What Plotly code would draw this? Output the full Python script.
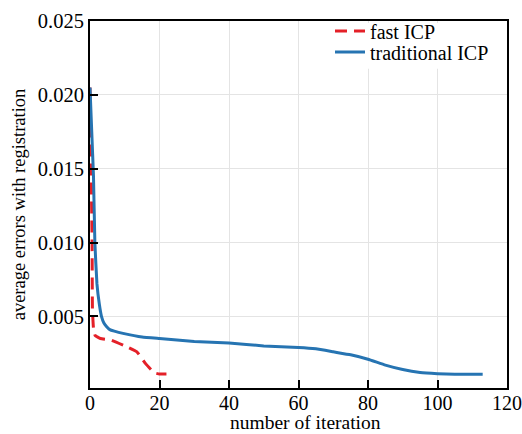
import plotly.graph_objects as go

# Data
fast_x = [0, 0.6, 0.7, 1.0, 1.5, 3, 6, 11, 13.5, 16, 18.5, 20, 22]
fast_y = [0.0205, 0.0100, 0.0055, 0.0042, 0.0037, 0.0035, 0.0034, 0.0029, 0.0026, 0.0018, 0.00118, 0.0011, 0.0011]

trad_x = [0, 0.5, 1, 1.4, 2, 2.7, 3.3, 4, 4.8, 5.7, 7, 9.5, 15, 20, 30, 40, 50, 60, 65, 70, 75, 80, 85, 90,
          95, 100, 105, 113]
trad_y = [0.0205, 0.0175, 0.0145, 0.0100, 0.0072, 0.0058, 0.0050, 0.00455, 0.0043, 0.0041, 0.0040, 0.00385,
          0.0036, 0.0035, 0.0033, 0.0032, 0.0030, 0.0029, 0.0028, 0.0026, 0.0024, 0.0021, 0.0017, 0.0014,
          0.0012, 0.00112, 0.00108, 0.00108]

x_ticks = [0, 20, 40, 60, 80, 100, 120]
y_ticks = [0.005, 0.010, 0.015, 0.020, 0.025]

FONT = "Liberation Serif, Times New Roman, serif"
W, H = 522, 434
ML, MR, MT, MB = 90, 15, 20, 46
PW, PH = W - ML - MR, H - MT - MB


def px_x(p):
    return (p - ML) / PW


def px_y(p):
    return (H - MB - p) / PH


fig = go.Figure()
fig.add_trace(go.Scatter(x=fast_x, y=fast_y, mode="lines", name="fast ICP", legend="legend",
                         line=dict(color="rgb(228,32,40)", width=3, dash="12px,7px",
                                   shape="spline", smoothing=0.3)))
fig.add_trace(go.Scatter(x=trad_x, y=trad_y, mode="lines", name="traditional ICP", legend="legend2",
                         line=dict(color="rgb(38,116,178)", width=3, shape="spline", smoothing=0.3)))

leg_common = dict(xanchor="left", yanchor="middle", bgcolor="rgba(255,255,255,0)",
                  font=dict(family=FONT, size=20), borderwidth=0, itemwidth=30)

# white box behind the legend (hides grid lines there, as in the reference)
fig.add_shape(type="rect", xref="paper", yref="paper", layer="above",
              x0=px_x(312), x1=px_x(500), y0=px_y(68), y1=px_y(22),
              fillcolor="white", line=dict(width=0))

# x-axis title as an annotation so its distance from the tick labels can be set
fig.add_annotation(text="number of iteration", xref="paper", yref="paper",
                   x=px_x(305), y=px_y(423), xanchor="center", yanchor="middle",
                   showarrow=False, font=dict(family=FONT, size=19.5, color="black"))

fig.update_layout(
    width=W, height=H,
    margin=dict(l=ML, r=MR, t=MT, b=MB),
    paper_bgcolor="white", plot_bgcolor="white",
    font=dict(family=FONT, color="black", size=20),
    showlegend=True,
    legend=dict(x=px_x(330), y=px_y(31), **leg_common),
    legend2=dict(x=px_x(330), y=px_y(52), **leg_common),
    xaxis=dict(range=[0, 120], tickvals=x_ticks, ticks="inside", ticklen=8, tickwidth=2,
               tickcolor="black", showline=True, linecolor="black", linewidth=2, mirror=True,
               showgrid=True, gridcolor="rgb(228,228,228)", gridwidth=1, zeroline=False,
               tickfont=dict(size=20), automargin=False, ticklabeloverflow="allow",
               ticklabelstandoff=-4),
    yaxis=dict(range=[0.00015, 0.025], tickvals=y_ticks, tickformat=".3f", ticks="inside", ticklen=8,
               tickwidth=2, tickcolor="black", showline=True, linecolor="black", linewidth=2, mirror=True,
               showgrid=True, gridcolor="rgb(228,228,228)", gridwidth=1, zeroline=False,
               tickfont=dict(size=20.5), automargin=False, ticklabeloverflow="allow",
               title=dict(text="average errors with registration", font=dict(size=18.5), standoff=7)),
)

fig.write_html("out.html", config={"displayModeBar": False},
               post_script="document.body.style.margin='0';document.body.style.overflow='hidden';")
